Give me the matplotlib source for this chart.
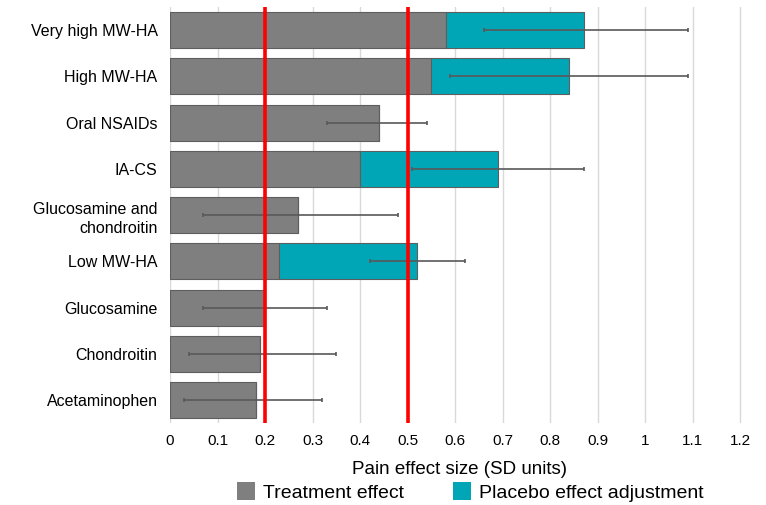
import matplotlib.pyplot as plt
from matplotlib.patches import Patch

plt.rcParams['font.family'] = ['Liberation Sans', 'DejaVu Sans']

# treatment effect and placebo adjustment (SD units), top to bottom
labels = ['Very high MW-HA', 'High MW-HA', 'Oral NSAIDs', 'IA-CS',
          'Glucosamine and\nchondroitin', 'Low MW-HA', 'Glucosamine',
          'Chondroitin', 'Acetaminophen']
treatment = [0.58, 0.55, 0.44, 0.40, 0.27, 0.23, 0.20, 0.19, 0.18]
placebo_adj = [0.29, 0.29, 0.00, 0.29, 0.00, 0.29, 0.00, 0.00, 0.00]
ci_low = [0.66, 0.59, 0.33, 0.51, 0.07, 0.42, 0.07, 0.04, 0.03]
ci_high = [1.09, 1.09, 0.54, 0.87, 0.48, 0.62, 0.33, 0.35, 0.32]
thresholds = [0.2, 0.5]
xticks = [0, 0.1, 0.2, 0.3, 0.4, 0.5, 0.6, 0.7, 0.8, 0.9, 1, 1.1, 1.2]

gray = '#7f7f7f'
teal = '#00a6b6'

fig = plt.figure(figsize=(7.66, 5.05), dpi=100)
ax = fig.add_axes([0.222, 0.162, 0.757, 0.824])

y = list(range(len(labels)))
totals = [t + p for t, p in zip(treatment, placebo_adj)]

ax.barh(y, treatment, height=0.78, color=gray, edgecolor='#5e5e5e', linewidth=0.8, zorder=2)
ax.barh(y, placebo_adj, left=treatment, height=0.78, color=teal, edgecolor='#5e5e5e',
        linewidth=0.8, zorder=2)

err = [[c - l for c, l in zip(totals, ci_low)], [h - c for c, h in zip(totals, ci_high)]]
ax.errorbar(totals, y, xerr=err, fmt='none', ecolor='#595959', elinewidth=1.2,
            capsize=1.5, capthick=1.2, zorder=3)

for t in thresholds:
    ax.axvline(t, color='#ff0000', linewidth=2.6, zorder=4)

ax.set_xlim(0, 1.22)
ax.set_ylim(len(labels) - 0.5, -0.5)
ax.set_xticks(xticks)
ax.set_xticklabels([f'{v:g}' for v in xticks])
ax.set_yticks(y)
ax.set_yticklabels(labels, fontsize=11.5, linespacing=1.4)
ax.tick_params(axis='x', labelsize=11, length=0, pad=8, colors='#000000')
ax.tick_params(axis='y', length=0, pad=9)
ax.grid(axis='x', color='#d9d9d9', linewidth=1.0, zorder=0)
ax.set_axisbelow(True)
for s in ax.spines.values():
    s.set_visible(False)

ax.set_xlabel('Pain effect size (SD units)', fontsize=13.5, labelpad=9)

handles = [Patch(facecolor=gray, edgecolor='none'), Patch(facecolor=teal, edgecolor='none')]
fig.legend(handles, ['Treatment effect', 'Placebo effect adjustment'], loc='center',
           bbox_to_anchor=(0.614, 0.026), ncol=2, frameon=False, fontsize=14,
           handlelength=0.95, handleheight=1.0, handletextpad=0.4, columnspacing=2.5,
           borderpad=0)

fig.savefig('out.png', dpi=100)
